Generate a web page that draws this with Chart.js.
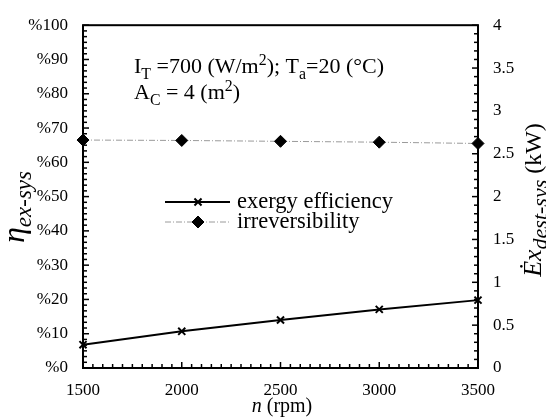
<!DOCTYPE html>
<html>
<head>
<meta charset="utf-8">
<script src="https://cdn.jsdelivr.net/npm/chart.js@4/dist/chart.umd.min.js"></script>
<style>
  html, body { margin: 0; padding: 0; background: #fff; }
  #wrap { width: 546px; height: 417px; }
</style>
</head>
<body>
<div id="wrap"><canvas id="chart" width="546" height="417"></canvas></div>
<script>
// data
const rpm = [1500, 2000, 2500, 3000, 3500];
const exergyEff = [6.8, 10.7, 14.0, 17.1, 19.8];      // %
const irreversibility = [2.66, 2.655, 2.645, 2.635, 2.62]; // kW
const seriesNames = ['exergy efficiency', 'irreversibility'];

const FONT = '"Liberation Serif", "Times New Roman", serif';

// draw text pieces with sub/superscripts; each run: [text, kind, size]
function richText(ctx, runs, x, y, size, align) {
  const parts = runs.map(([t, kind, sz]) => {
    const small = kind.startsWith('sub') || kind.startsWith('sup');
    const italic = kind.endsWith('i');
    const s = sz || (small ? size * 0.72 : size);
    const f = (italic ? 'italic ' : '') + s + 'px ' + FONT;
    ctx.font = f;
    const dy = kind.startsWith('sub') ? size * 0.25 : kind.startsWith('sup') ? -size * 0.38 : 0;
    return { t, f, dy, w: ctx.measureText(t).width };
  });
  const total = parts.reduce((s, p) => s + p.w, 0);
  let cx = align === 'center' ? x - total / 2 : x;
  ctx.textAlign = 'left';
  for (const p of parts) {
    ctx.font = p.f;
    ctx.fillText(p.t, cx, y + p.dy);
    cx += p.w;
  }
}

const decor = {
  id: 'decor',
  afterDraw(chart) {
    const { ctx, chartArea: a, scales } = chart;
    ctx.save();
    ctx.strokeStyle = '#000';
    ctx.fillStyle = '#000';
    const tick = (x1, y1, x2, y2) => { ctx.beginPath(); ctx.moveTo(x1, y1); ctx.lineTo(x2, y2); ctx.stroke(); };
    ctx.lineWidth = 1.5;
    // inward ticks, left axis (6 minor steps per 10 %)
    for (let i = 0; i <= 60; i++) {
      const p = scales.y.getPixelForValue(i * 10 / 6);
      tick(a.left, p, a.left + (i % 6 === 0 ? 6 : 4), p);
    }
    // right axis (5 minor steps per 0.5)
    for (let i = 0; i <= 40; i++) {
      const p = scales.y1.getPixelForValue(i * 0.1);
      tick(a.right, p, a.right - (i % 5 === 0 ? 6 : 4), p);
    }
    // bottom axis (10 minor steps per 500)
    for (let i = 0; i <= 40; i++) {
      const p = scales.x.getPixelForValue(1500 + i * 50);
      tick(p, a.bottom, p, a.bottom - (i % 10 === 0 ? 6 : 4));
    }
    ctx.lineWidth = 2;
    ctx.strokeRect(a.left, a.top, a.right - a.left, a.bottom - a.top);

    ctx.textBaseline = 'alphabetic';
    // annotation
    richText(ctx, [['I', 'n'], ['T', 'sub'], [' =700 (W/m', 'n'], ['2', 'sup'], ['); T', 'n'], ['a', 'sub'], ['=20 (°C)', 'n']], 134, 73, 22, 'left');
    richText(ctx, [['A', 'n'], ['C', 'sub'], [' = 4 (m', 'n'], ['2', 'sup'], [')', 'n']], 134, 99, 22, 'left');

    // legend
    const ds = chart.data.datasets;
    const rows = [202, 222];
    ds.forEach((d, i) => {
      const yy = rows[i];
      ctx.save();
      ctx.strokeStyle = d.borderColor;
      ctx.lineWidth = d.borderWidth;
      ctx.setLineDash(d.borderDash || []);
      tick(165, yy, 230, yy);
      ctx.restore();
      ctx.fillStyle = d.pointBackgroundColor;
      ctx.strokeStyle = d.pointBorderColor;
      ctx.lineWidth = d.pointBorderWidth;
      Chart.helpers.drawPoint(ctx, { pointStyle: d.pointStyle, radius: d.pointRadius, rotation: 0, borderWidth: d.pointBorderWidth }, 198, yy);
      ctx.fillStyle = '#000';
      ctx.font = '22.5px ' + FONT;
      ctx.textAlign = 'left';
      ctx.textBaseline = 'middle';
      ctx.fillText(d.label, 237, yy);
    });

    // axis titles
    ctx.textBaseline = 'alphabetic';
    ctx.fillStyle = '#000';
    richText(ctx, [['n', 'i'], [' (rpm)', 'n']], 282, 412, 20, 'center');

    ctx.save();
    ctx.translate(24, 207);
    ctx.rotate(-Math.PI / 2);
    richText(ctx, [['η', 'i', 32], ['ex-sys', 'subi', 23]], 0, 0, 26, 'center');
    ctx.restore();

    ctx.save();
    ctx.translate(541, 200);
    ctx.rotate(-Math.PI / 2);
    richText(ctx, [['Ėx', 'i', 26], ['dest-sys', 'subi', 22], [' (kW)', 'n', 24]], 0, 0, 22, 'center');
    ctx.restore();

    ctx.restore();
  }
};

new Chart(document.getElementById('chart').getContext('2d'), {
  type: 'line',
  data: {
    datasets: [{
      label: seriesNames[0],
      data: rpm.map((r, i) => ({ x: r, y: exergyEff[i] })),
      yAxisID: 'y',
      borderColor: '#000',
      borderWidth: 2,
      pointStyle: 'crossRot',
      pointRadius: 5,
      pointBorderWidth: 2,
      pointBackgroundColor: '#000',
      pointBorderColor: '#000',
      clip: false,
      fill: false,
    }, {
      label: seriesNames[1],
      data: rpm.map((r, i) => ({ x: r, y: irreversibility[i] })),
      yAxisID: 'y1',
      borderColor: '#9a9a9a',
      borderWidth: 1,
      borderDash: [6, 2, 1, 2],
      pointStyle: 'rectRot',
      pointRadius: 6,
      pointBorderWidth: 1,
      pointBackgroundColor: '#000',
      pointBorderColor: '#000',
      clip: false,
      fill: false,
    }]
  },
  options: {
    responsive: false,
    animation: false,
    layout: { padding: { top: 23, left: 0, right: 0, bottom: 0 } },
    plugins: { legend: { display: false }, tooltip: { enabled: false } },
    scales: {
      x: {
        type: 'linear',
        min: 1500, max: 3500,
        afterFit(s) { s.height = 49; },
        grid: { display: false, drawTicks: false },
        border: { display: false },
        ticks: { stepSize: 500, padding: 12, color: '#000', font: { family: FONT, size: 17 },
          callback: v => String(v) }
      },
      y: {
        position: 'left',
        min: 0, max: 100,
        afterFit(s) { s.width = 83; },
        grid: { display: false, drawTicks: false },
        border: { display: false },
        ticks: { stepSize: 10, padding: 15, color: '#000', font: { family: FONT, size: 17 },
          callback: v => '%' + v }
      },
      y1: {
        position: 'right',
        min: 0, max: 4,
        afterFit(s) { s.width = 68; },
        grid: { display: false, drawTicks: false },
        border: { display: false },
        ticks: { stepSize: 0.5, padding: 15, color: '#000', font: { family: FONT, size: 17 },
          callback: v => String(v) }
      }
    }
  },
  plugins: [decor]
});
</script>
</body>
</html>
